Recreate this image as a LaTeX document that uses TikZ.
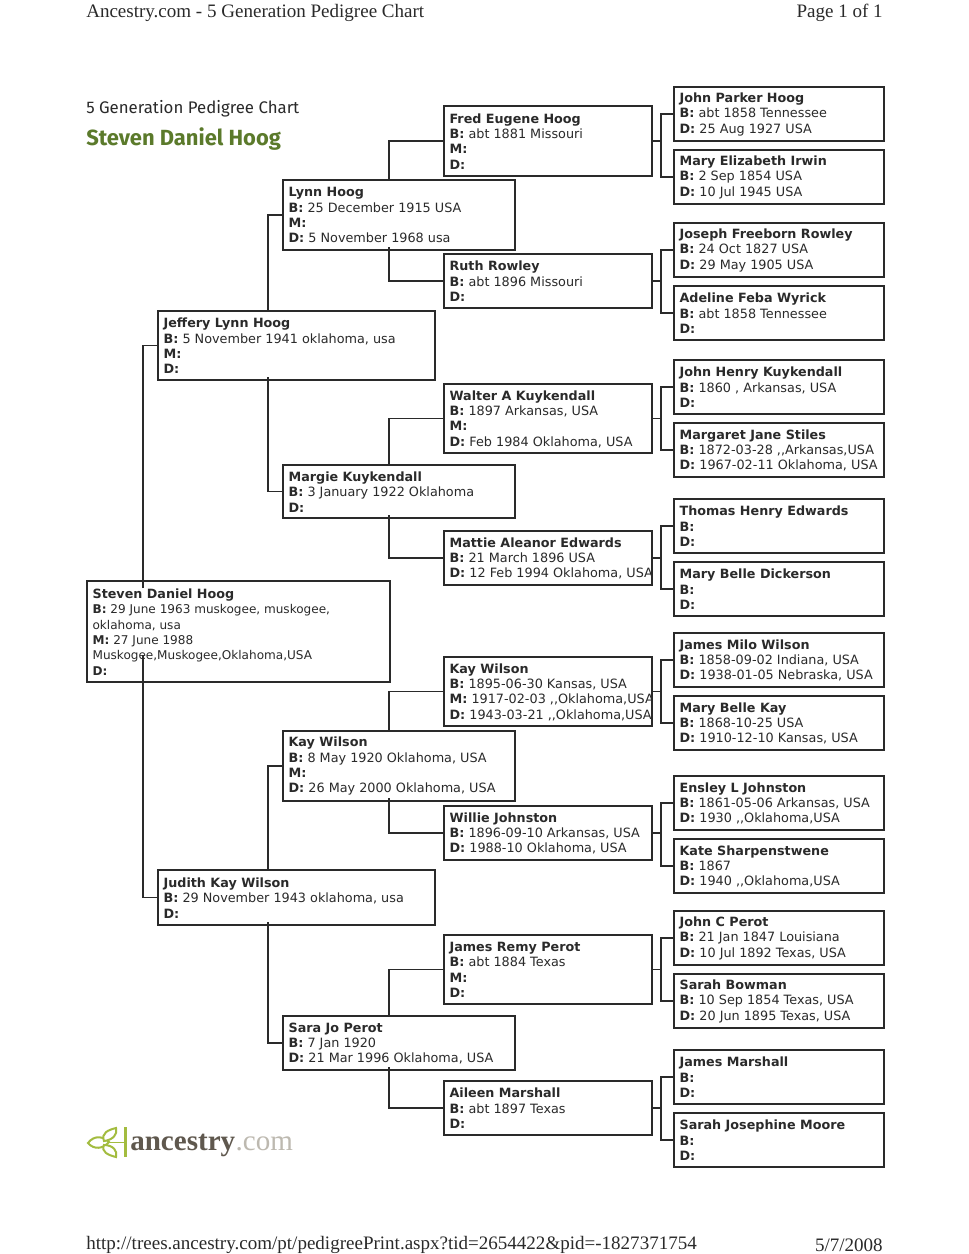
\documentclass[tikz,border=0pt]{standalone}
\usepackage{fontspec}
\setmainfont{DejaVu Sans}
\newfontfamily\headfont{Liberation Serif}
\newfontfamily\titlefont{Fira Sans}
\usetikzlibrary{calc}
\definecolor{ink}{HTML}{2A2A2A}
\definecolor{leafgreen}{HTML}{A3BC3F}
\definecolor{titlegreen}{HTML}{5B7A2B}
\definecolor{logodark}{HTML}{5F584E}
\definecolor{logolight}{HTML}{BDB9B0}
\newcommand{\nm}[1]{{\fontsize{9.55}{11.5}\selectfont\bfseries #1}}
\newcommand{\boxsize}{9.6}
\tikzset{
  x=0.75pt,y=-0.75pt,
  boxframe/.style={draw=ink,line width=1.1pt,fill=white,anchor=north west,inner sep=0pt,outer sep=0pt},
  outerframe/.style={boxframe,line width=1.5pt},
  boxtext/.style={draw=none,fill=none,anchor=west,align=left,inner sep=0pt,text=ink,
    minimum width=0pt,minimum height=0pt,
    font=\fontsize{\boxsize}{11.5}\selectfont},
  link/.style={draw=ink,line width=1.1pt},
  headtext/.style={font=\headfont\fontsize{14.27}{18}\selectfont,text=ink,inner sep=0pt},
}
% name, x1, y1, x2, y2, style, text
\newcommand{\person}[7]{%
  \node[#6,minimum width={(#4-#2)*0.75pt},minimum height={(#5-#3)*0.75pt},
    path picture={\node[boxtext] at ([xshift=4.2pt,yshift=-0.3pt]path picture bounding box.west) {#7};}]
    (#1) at (#2,#3) {};}
\newcommand{\forkright}[3]{%
  \draw[link] (#1.east) -- ++(9,0) coordinate (j#1);
  \draw[link] (#2.west) -| (j#1) |- (#3.west);}
\newcommand{\upconn}[3]{\draw[link] (#1.north west) ++(#2,0) |- (#3.west);}
\newcommand{\downconn}[3]{\draw[link] (#1.south west) ++(#2,-3) |- (#3.west);}
\begin{document}
\begin{tikzpicture}
\useasboundingbox (0,0) rectangle (969,1254);
\fill[white] (0,0) rectangle (969,1254);
% page furniture
\node[headtext,anchor=west] (hl) at (86,13) {Ancestry.com - 5 Generation Pedigree Chart};
\node[headtext,anchor=east] (hr) at (883,13) {Page 1 of 1};
\node[headtext,anchor=west] (fl) at (86,1245) {http://trees.ancestry.com/pt/pedigreePrint.aspx?tid=2654422\&pid=-1827371754};
\node[headtext,anchor=east] (fr) at (883,1245) {5/7/2008};
\node[anchor=west,inner sep=0pt,text=ink,font=\titlefont\fontsize{12.6}{15}\selectfont] (title) at (86,108.5) {5 Generation Pedigree Chart};
\node[anchor=west,inner sep=0pt,text=titlegreen,font=\titlefont\bfseries\fontsize{16.45}{20}\selectfont] (subject) at (86,139) {Steven Daniel Hoog};
% logo
\fill[leafgreen] (124,1127) rectangle (126.5,1157);
\draw[leafgreen,line width=1.3pt] (107,1142.5) -- (124,1142.5);
\draw[leafgreen,line width=1.5pt,fill=white] (88,1143) .. controls (94,1135) and (103,1136) .. (109,1142) .. controls (103,1149) and (94,1150) .. (88,1143) -- cycle;
\draw[leafgreen,line width=1.5pt,fill=white] (104,1141) .. controls (101,1133) and (108,1130) .. (116,1128) .. controls (118,1134) and (113,1140) .. (104,1141) -- cycle;
\draw[leafgreen,line width=1.5pt,fill=white] (104,1145) .. controls (101,1152) and (108,1155) .. (116,1157) .. controls (118,1151) and (113,1145) .. (104,1145) -- cycle;
\node[anchor=base west,inner sep=0pt,font=\headfont\bfseries\fontsize{21.8}{24}\selectfont,text=logodark] (logoa) at (130,1150) {ancestry};
\node[anchor=base west,inner sep=0pt,font=\headfont\fontsize{21.8}{24}\selectfont,text=logolight] (logob) at (logoa.base east) {.com};
% generation 5
\person{g1}{674}{87}{884}{141}{outerframe}{\nm{John Parker Hoog}\\\textbf{B:} abt 1858 Tennessee\\\textbf{D:} 25 Aug 1927 USA}
\person{g2}{674}{150}{884}{204}{outerframe}{\nm{Mary Elizabeth Irwin}\\\textbf{B:} 2 Sep 1854 USA\\\textbf{D:} 10 Jul 1945 USA}
\person{g3}{674}{223}{884}{277}{outerframe}{\nm{Joseph Freeborn Rowley}\\\textbf{B:} 24 Oct 1827 USA\\\textbf{D:} 29 May 1905 USA}
\person{g4}{674}{286}{884}{340}{outerframe}{\nm{Adeline Feba Wyrick}\\\textbf{B:} abt 1858 Tennessee\\\textbf{D:}}
\person{g5}{674}{360}{884}{414}{outerframe}{\nm{John Henry Kuykendall}\\\textbf{B:} 1860 , Arkansas, USA\\\textbf{D:}}
\person{g6}{674}{423}{884}{477}{outerframe}{\nm{Margaret Jane Stiles}\\\textbf{B:} 1872-03-28 ,{},Arkansas,USA\\\textbf{D:} 1967-02-11 Oklahoma, USA}
\person{g7}{674}{499}{884}{553}{outerframe}{\nm{Thomas Henry Edwards}\\\textbf{B:}\\\textbf{D:}}
\person{g8}{674}{562}{884}{616}{outerframe}{\nm{Mary Belle Dickerson}\\\textbf{B:}\\\textbf{D:}}
\person{g9}{674}{633}{884}{687}{outerframe}{\nm{James Milo Wilson}\\\textbf{B:} 1858-09-02 Indiana, USA\\\textbf{D:} 1938-01-05 Nebraska, USA}
\person{g10}{674}{696}{884}{750}{outerframe}{\nm{Mary Belle Kay}\\\textbf{B:} 1868-10-25 USA\\\textbf{D:} 1910-12-10 Kansas, USA}
\person{g11}{674}{776}{884}{830}{outerframe}{\nm{Ensley L Johnston}\\\textbf{B:} 1861-05-06 Arkansas, USA\\\textbf{D:} 1930 ,{},Oklahoma,USA}
\person{g12}{674}{839}{884}{893}{outerframe}{\nm{Kate Sharpenstwene}\\\textbf{B:} 1867\\\textbf{D:} 1940 ,{},Oklahoma,USA}
\person{g13}{674}{911}{884}{965}{outerframe}{\nm{John C Perot}\\\textbf{B:} 21 Jan 1847 Louisiana\\\textbf{D:} 10 Jul 1892 Texas, USA}
\person{g14}{674}{974}{884}{1028}{outerframe}{\nm{Sarah Bowman}\\\textbf{B:} 10 Sep 1854 Texas, USA\\\textbf{D:} 20 Jun 1895 Texas, USA}
\person{g15}{674}{1050}{884}{1104}{outerframe}{\nm{James Marshall}\\\textbf{B:}\\\textbf{D:}}
\person{g16}{674}{1113}{884}{1167}{outerframe}{\nm{Sarah Josephine Moore}\\\textbf{B:}\\\textbf{D:}}
% generation 4
\person{f1}{444}{106}{652}{176}{boxframe}{\nm{Fred Eugene Hoog}\\\textbf{B:} abt 1881 Missouri\\\textbf{M:}\\\textbf{D:}}
\person{f2}{444}{254}{652}{308}{boxframe}{\nm{Ruth Rowley}\\\textbf{B:} abt 1896 Missouri\\\textbf{D:}}
\person{f3}{444}{384}{652}{453}{boxframe}{\nm{Walter A Kuykendall}\\\textbf{B:} 1897 Arkansas, USA\\\textbf{M:}\\\textbf{D:} Feb 1984 Oklahoma, USA}
\person{f4}{444}{531}{652}{585}{boxframe}{\nm{Mattie Aleanor Edwards}\\\textbf{B:} 21 March 1896 USA\\\textbf{D:} 12 Feb 1994 Oklahoma, USA}
\person{f5}{444}{657}{652}{726}{boxframe}{\nm{Kay Wilson}\\\textbf{B:} 1895-06-30 Kansas, USA\\\textbf{M:} 1917-02-03 ,{},Oklahoma,USA\\\textbf{D:} 1943-03-21 ,{},Oklahoma,USA}
\person{f6}{444}{806}{652}{860}{boxframe}{\nm{Willie Johnston}\\\textbf{B:} 1896-09-10 Arkansas, USA\\\textbf{D:} 1988-10 Oklahoma, USA}
\person{f7}{444}{935}{652}{1004}{boxframe}{\nm{James Remy Perot}\\\textbf{B:} abt 1884 Texas\\\textbf{M:}\\\textbf{D:}}
\person{f8}{444}{1081}{652}{1135}{boxframe}{\nm{Aileen Marshall}\\\textbf{B:} abt 1897 Texas\\\textbf{D:}}
% generation 3
\person{e1}{283}{180}{515}{250}{boxframe}{\nm{Lynn Hoog}\\\textbf{B:} 25 December 1915 USA\\\textbf{M:}\\\textbf{D:} 5 November 1968 usa}
\person{e2}{283}{465}{515}{518}{boxframe}{\nm{Margie Kuykendall}\\\textbf{B:} 3 January 1922 Oklahoma\\\textbf{D:}}
\person{e3}{283}{731}{515}{801}{boxframe}{\nm{Kay Wilson}\\\textbf{B:} 8 May 1920 Oklahoma, USA\\\textbf{M:}\\\textbf{D:} 26 May 2000 Oklahoma, USA}
\person{e4}{283}{1016}{515}{1070}{boxframe}{\nm{Sara Jo Perot}\\\textbf{B:} 7 Jan 1920\\\textbf{D:} 21 Mar 1996 Oklahoma, USA}
% generation 2
\person{d1}{158}{311}{435}{380}{boxframe}{\nm{Jeffery Lynn Hoog}\\\textbf{B:} 5 November 1941 oklahoma, usa\\\textbf{M:}\\\textbf{D:}}
\person{d2}{158}{870}{435}{925}{boxframe}{\nm{Judith Kay Wilson}\\\textbf{B:} 29 November 1943 oklahoma, usa\\\textbf{D:}}
% generation 1
{\renewcommand{\boxsize}{9.05}%
\person{c1}{87}{581}{390}{682}{boxframe}{\nm{Steven Daniel Hoog}\\\textbf{B:} 29 June 1963 muskogee, muskogee,\\oklahoma, usa\\\textbf{M:} 27 June 1988\\Muskogee,Muskogee,Oklahoma,USA\\\textbf{D:}}}
% connectors
\forkright{f1}{g1}{g2}
\forkright{f2}{g3}{g4}
\forkright{f3}{g5}{g6}
\forkright{f4}{g7}{g8}
\forkright{f5}{g9}{g10}
\forkright{f6}{g11}{g12}
\forkright{f7}{g13}{g14}
\forkright{f8}{g15}{g16}
\upconn{e1}{106}{f1}
\downconn{e1}{106}{f2}
\upconn{e2}{106}{f3}
\downconn{e2}{106}{f4}
\upconn{e3}{106}{f5}
\downconn{e3}{106}{f6}
\upconn{e4}{106}{f7}
\downconn{e4}{106}{f8}
\upconn{d1}{110}{e1}
\downconn{d1}{110}{e2}
\upconn{d2}{110}{e3}
\downconn{d2}{110}{e4}
\draw[link] (c1.north west) ++(56,7) |- (d1.west);
\draw[link] (c1.south west) ++(56,-27) |- (d2.west);
\end{tikzpicture}
\end{document}
